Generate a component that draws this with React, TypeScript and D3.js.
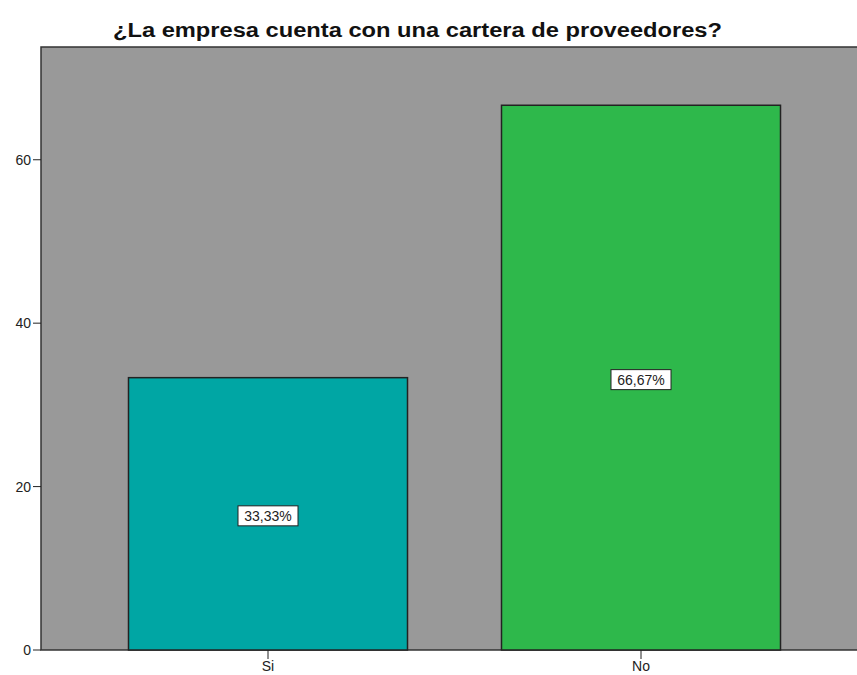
import React from "react";
import * as d3 from "d3";

const categories = ["Si", "No"];
const percents = [33.33, 66.67];
const labels = ["33,33%", "66,67%"];
const colors = ["#00A6A4", "#2EB84B"];
const yTicks = [0, 20, 40, 60];
const title = "¿La empresa cuenta con una cartera de proveedores?";

const W = 857, H = 675;
const plotLeft = 41, plotTop = 47, plotBottom = 650, plotRight = 860;

export default function App() {
  const y = d3.scaleLinear().domain([0, 73.8]).range([plotBottom, plotTop]);
  const x = d3.scaleBand<string>().domain(categories).range([81.5, 827.5]).paddingInner(0.252).paddingOuter(0.126);
  const font = "'Liberation Sans', Arial, sans-serif";
  return (
    <svg width={W} height={H} style={{ position: "absolute", left: 0, top: 0, background: "#fff" }} fontFamily={font}>
      <text x={113} y={37} fontSize={20} fontWeight="bold" fill="#111" textLength={609} lengthAdjust="spacingAndGlyphs">{title}</text>
      <rect x={plotLeft} y={plotTop} width={plotRight - plotLeft} height={plotBottom - plotTop} fill="#999999" stroke="#333" strokeWidth={1.5} />
      {categories.map((c, i) => (
        <rect key={c} x={x(c)} y={y(percents[i])} width={x.bandwidth()} height={plotBottom - y(percents[i])} fill={colors[i]} stroke="#222" strokeWidth={1.5} />
      ))}
      {categories.map((c, i) => {
        const cx = (x(c) as number) + x.bandwidth() / 2;
        const cy = y(percents[i] / 2) + 2;
        const w = 60, h = 20;
        return (
          <g key={"l" + c}>
            <rect x={cx - w / 2} y={cy - h / 2} width={w} height={h} fill="#fff" stroke="#222" strokeWidth={1} />
            <text x={cx} y={cy + 5} textAnchor="middle" fontSize={14} fill="#222">{labels[i]}</text>
          </g>
        );
      })}
      {yTicks.map(t => (
        <g key={t}>
          <line x1={33} x2={plotLeft} y1={y(t)} y2={y(t)} stroke="#222" strokeWidth={1} />
          <text x={31} y={y(t) + 5} textAnchor="end" fontSize={14} fill="#222">{t}</text>
        </g>
      ))}
      {categories.map(c => {
        const cx = (x(c) as number) + x.bandwidth() / 2;
        return (
          <g key={"t" + c}>
            <line x1={cx} x2={cx} y1={plotBottom} y2={plotBottom + 9} stroke="#222" strokeWidth={1} />
            <text x={cx} y={plotBottom + 21} textAnchor="middle" fontSize={14} fill="#222">{c}</text>
          </g>
        );
      })}
    </svg>
  );
}
